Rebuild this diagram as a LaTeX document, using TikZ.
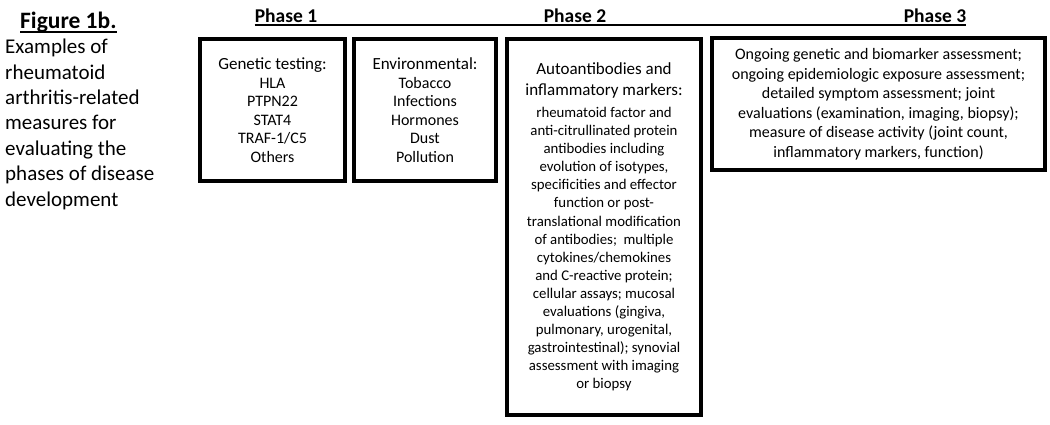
\documentclass[tikz,border=0pt]{standalone}
\usepackage{fontspec}
\setmainfont{Carlito}
\usepackage{tikz}
\usetikzlibrary{positioning}
\newcommand{\headfont}{\fontsize{17}{21.5}\selectfont}

\begin{document}
\begin{tikzpicture}
[x=1pt, y=-1pt,
% STYLES
every node/.style={inner sep=0pt},
% The phase style is used to write the heading of each phase
phase/.style={anchor=base, font=\bfseries\fontsize{19.5}{23}\selectfont},
% The intro style is used for the text on the left
intro/.style={anchor=north west, align=left, font=\fontsize{21}{25.4}\selectfont},
% The measure style is used to draw the boxes of measures
measure/.style={rectangle, draw, line width=4pt, align=center, font=\fontsize{16}{18.5}\selectfont}]
\useasboundingbox (0,0) rectangle (1050,424);
% Draw title
\node [anchor=base west, font=\bfseries\fontsize{23.5}{28}\selectfont] (figure) at (20,28) {Figure 1b.};
\draw [line width=1.5pt] ([yshift=-4pt]figure.base west) -- ([yshift=-4pt]figure.base east);
\node [intro] (intro) at (5,39) {Examples of\\ rheumatoid\\ arthritis-related\\ measures for\\ evaluating the\\ phases of disease\\ development};
% Draw phases
\node [phase] (phase1) at (286,22) {Phase 1};
\node [phase] (phase2) at (575,22) {Phase 2};
\node [phase] (phase3) at (935,22) {Phase 3};
\draw [line width=1.3pt] ([yshift=-3pt]phase1.base west) -- ([yshift=-3pt]phase3.base east);
%%%%%%%%%%%%%%%
% Draw boxes
% phase 1
\node [measure, minimum width=145, minimum height=142] (genetic) at (272.5,110) {{\headfont Genetic testing:}\\ HLA\\ PTPN22\\ STAT4\\ TRAF-1/C5\\ Others};
\node [measure, minimum width=142, minimum height=142, right=5pt of genetic] (environ) {{\headfont Environmental:}\\ Tobacco\\ Infections\\ Hormones\\ Dust\\ Pollution};
% phase 2
\node [measure, minimum width=194, minimum height=376, anchor=north west, font=\fontsize{14.8}{18.1}\selectfont] (auto) at ([xshift=7pt]environ.north east) {{\headfont Autoantibodies and}\\[3.4pt] {\headfont inflammatory markers:}\\[3.4pt] rheumatoid factor and\\ anti-citrullinated protein\\ antibodies including\\ evolution of isotypes,\\ specificities and effector\\ function or post-\\ translational modification\\ of antibodies;\ \ multiple\\ cytokines/chemokines\\ and C-reactive protein;\\ cellular assays; mucosal\\ evaluations (gingiva,\\ pulmonary, urogenital,\\ gastrointestinal); synovial\\ assessment with imaging\\ or biopsy};
% phase 3
\node [measure, minimum width=333, minimum height=132, anchor=north west, font=\fontsize{16}{19.5}\selectfont] (ongoing) at ([xshift=7pt,yshift=1pt]auto.north east) {Ongoing genetic and biomarker assessment;\\ ongoing epidemiologic exposure assessment;\\ detailed symptom assessment; joint\\ evaluations (examination, imaging, biopsy);\\ measure of disease activity (joint count,\\ inflammatory markers, function)};
\end{tikzpicture}
\end{document}
